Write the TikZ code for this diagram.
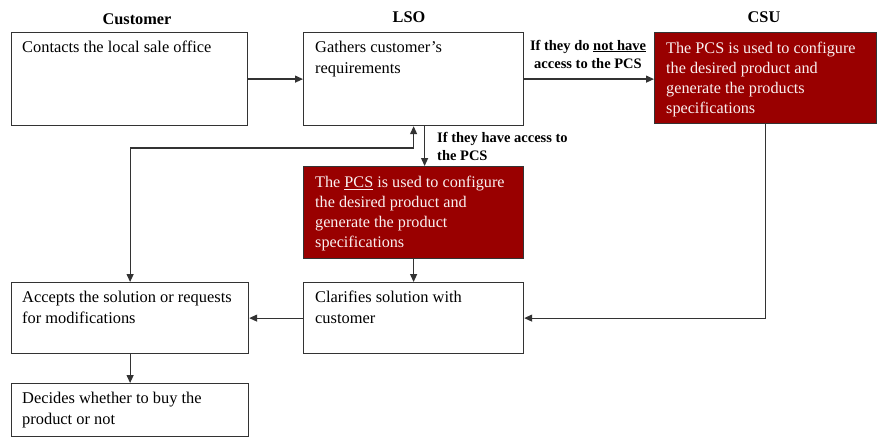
\documentclass[tikz,border=0pt]{standalone}
\usepackage{fontspec}
\setmainfont{Liberation Serif}
\usetikzlibrary{arrows.meta,calc}
\definecolor{pcsred}{HTML}{990000}
\definecolor{edge}{HTML}{333333}
\begin{document}
\begin{tikzpicture}[x=1pt,y=-1pt,
  box/.style={draw=edge,line width=1.2pt,rectangle,inner sep=0pt,anchor=north west},
  whitebox/.style={box,fill=white},
  redbox/.style={box,fill=pcsred},
  boxtext/.style={anchor=north west,inner sep=0pt,align=left,
    font=\fontsize{16.4}{21}\selectfont},
  redtext/.style={boxtext,text=white!94!pcsred,font=\fontsize{16.2}{20}\selectfont},
  heading/.style={font=\fontsize{16.3}{19}\selectfont\bfseries,inner sep=0pt},
  cond/.style={font=\fontsize{14.5}{18}\selectfont\bfseries,inner sep=0pt},
  flow/.style={draw=edge,line width=1.2pt,-{Triangle[length=8pt,width=7pt]}},
  flowboth/.style={draw=edge,line width=1.2pt,{Triangle[length=8pt,width=7pt]}-{Triangle[length=8pt,width=7pt]}}
]
\useasboundingbox (0,0) rectangle (880,441);

% column headings
\node[heading] (hcust) at (137,19) {Customer};
\node[heading] (hlso)  at (409,17) {LSO};
\node[heading] (hcsu)  at (764,17) {CSU};

% process boxes
\node[whitebox,minimum width=236pt,minimum height=93pt] (A) at (11,32) {};
\node[boxtext] (At) at ($(A.north west)+(11,9)$) {Contacts the local sale office};

\node[whitebox,minimum width=220pt,minimum height=93pt] (B) at (303,32) {};
\node[boxtext] (Bt) at ($(B.north west)+(12,9)$) {Gathers customer’s\\requirements};

\node[redbox,minimum width=222pt,minimum height=91pt] (C) at (654,32) {};
\node[redtext] (Ct) at ($(C.north west)+(12,10)$) {The PCS is used to configure\\the desired product and\\generate the products\\specifications};

\node[redbox,minimum width=220pt,minimum height=92pt] (D) at (303,166) {};
\node[redtext] (Dt) at ($(D.north west)+(12,10)$) {The \underline{PCS} is used to configure\\the desired product and\\generate the product\\specifications};

\node[whitebox,minimum width=220pt,minimum height=71pt] (E) at (303,282) {};
\node[boxtext] (Et) at ($(E.north west)+(12,9)$) {Clarifies solution with\\customer};

\node[whitebox,minimum width=237pt,minimum height=71pt] (F) at (11,282) {};
\node[boxtext] (Ft) at ($(F.north west)+(11,9)$) {Accepts the solution or requests\\for modifications};

\node[whitebox,minimum width=237pt,minimum height=53pt] (G) at (11,383) {};
\node[boxtext] (Gt) at ($(G.north west)+(11,9)$) {Decides whether to buy the\\product or not};

% condition labels
\node[cond,align=center] (ncond) at (588,54) {If they do \underline{not have}\\access to the PCS};
\node[cond,align=left,anchor=west] (ycond) at (437,146) {If they have access to\\the PCS};

% connectors
\coordinate (turn) at (B.south |- 0,148);
\draw[flow] (A.east) -- (B.west);
\draw[flow] (B.east) -- (B.east -| C.west);
\draw[flow] ($(B.south)+(11,0)$) -- ($(D.north)+(11,0)$);
\draw[flowboth] (B.south) -- (turn) -| (F.north);
\draw[flow] (D.south) -- (E.north);
\draw[flow] (C.south) |- (E.east);
\draw[flow] (E.west) -- (F.east);
\draw[flow] (F.south) -- (G.north);
\end{tikzpicture}
\end{document}
